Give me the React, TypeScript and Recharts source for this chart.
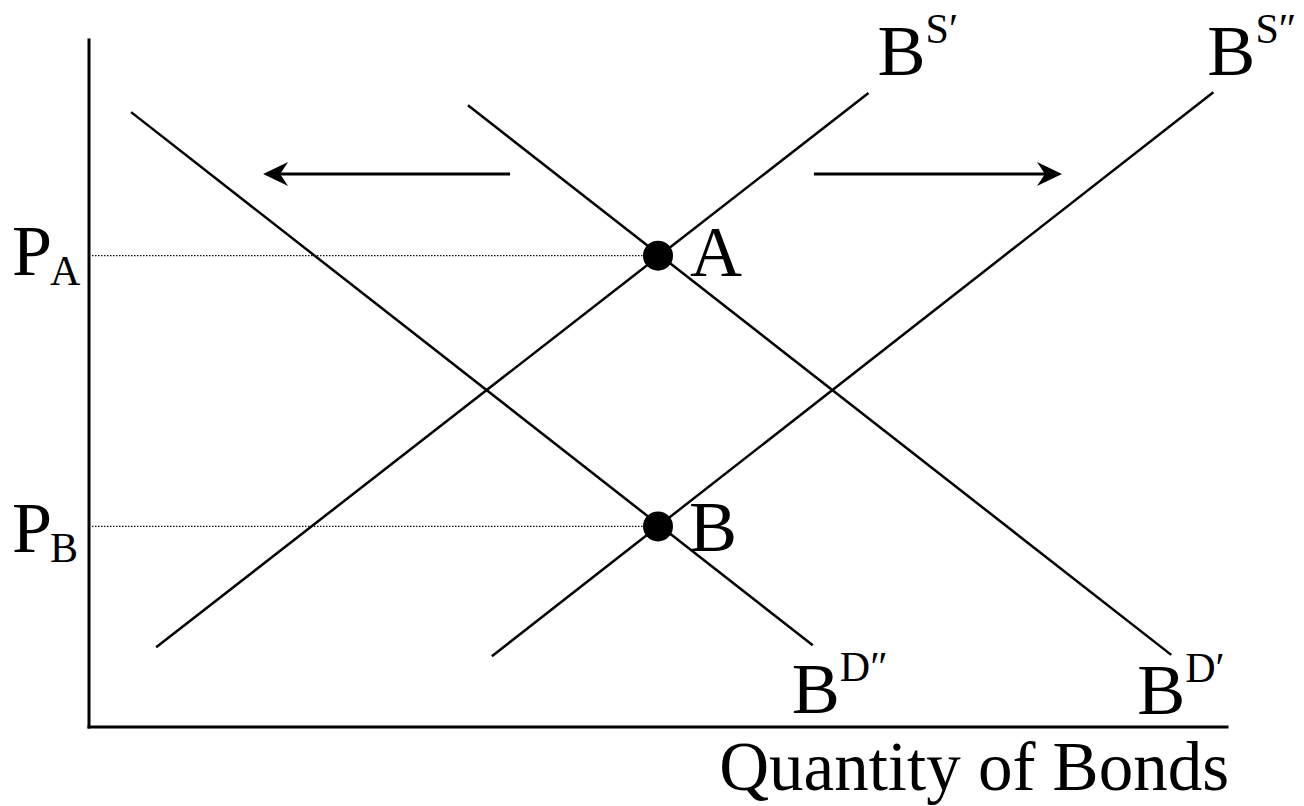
import React from "react";
import {
  ComposedChart,
  XAxis,
  YAxis,
  Line,
  ReferenceLine,
  ReferenceDot,
} from "recharts";

// quantity (q) and price (p), both axes run 0..100
const supplyOne = [
  { q: 5.9, p: 11.6 },
  { q: 68.5, p: 92.3 },
];
const supplyTwo = [
  { q: 35.4, p: 10.3 },
  { q: 98.8, p: 92.4 },
];
const demandOne = [
  { q: 33.3, p: 90.5 },
  { q: 95.1, p: 10.5 },
];
const demandTwo = [
  { q: 3.7, p: 89.5 },
  { q: 63.6, p: 11.9 },
];

const pointA = { q: 50, p: 68.6 };
const pointB = { q: 50, p: 29.2 };

const shiftLeft = [
  { q: 37.0, p: 80.5 },
  { q: 15.3, p: 80.5 },
];
const shiftRight = [
  { q: 63.7, p: 80.5 },
  { q: 85.5, p: 80.5 },
];

const qDomain = [0, 100];
const pDomain = [0, 100];

const FONT = "'Liberation Serif', 'Times New Roman', Times, serif";
const BIG = 72;
const SMALL = 42;

const SupText = ({ x, y, base, sup }: any) => (
  <text x={x} y={y} fontFamily={FONT} fontSize={BIG} fill="#000">
    {base}
    <tspan dy={-32} fontSize={SMALL}>
      {sup}
    </tspan>
  </text>
);

const SubText = ({ x, y, base, sub }: any) => (
  <text x={x} y={y} fontFamily={FONT} fontSize={BIG} fill="#000">
    {base}
    <tspan dx={-2} dy={10} fontSize={SMALL}>
      {sub}
    </tspan>
  </text>
);

// end label for a curve, placed relative to the curve's end point
const curveLabel = (sup: string, dx: number, dy: number) => (props: any) =>
  <SupText x={props.cx + dx} y={props.cy + dy} base="B" sup={sup} />;

const equilibriumDot = (name: string, dx: number, dy: number) => (props: any) =>
  (
    <g>
      <circle cx={props.cx} cy={props.cy} r={15} fill="#000" />
      <text
        x={props.cx + dx}
        y={props.cy + dy}
        fontFamily={FONT}
        fontSize={BIG}
        fill="#000"
      >
        {name}
      </text>
    </g>
  );

const priceGuide = (sub: string, dy: number) => (props: any) =>
  (
    <g>
      <line
        x1={props.x1 + 3}
        y1={props.y1}
        x2={props.x2}
        y2={props.y2}
        stroke="#111"
        strokeWidth={1.3}
        strokeDasharray="1.5 1.5"
      />
      <SubText x={props.x1 - 77} y={props.y1 + dy} base="P" sub={sub} />
    </g>
  );

const Arrow = (props: any) => {
  const { x1, y1, x2, y2 } = props;
  const dir = Math.sign(x2 - x1);
  const back = x2 - dir * 25;
  const notch = x2 - dir * 17;
  return (
    <g>
      <line x1={x1} y1={y1} x2={notch} y2={y2} stroke="#000" strokeWidth={3} />
      <path
        d={`M${x2},${y2} L${back},${y2 - 12} L${notch},${y2} L${back},${y2 + 12} Z`}
        fill="#000"
      />
    </g>
  );
};

const AxisStroke = (props: any) => (
  <line
    x1={props.x1}
    y1={props.y1}
    x2={props.x2}
    y2={props.y2}
    stroke="#000"
    strokeWidth={3}
    strokeLinecap="square"
  />
);

const AxisTitle = (props: any) => (
  <text
    x={props.cx + 2}
    y={props.cy + 63}
    textAnchor="end"
    fontFamily={FONT}
    fontSize={69}
    fill="#000"
  >
    Quantity of Bonds
  </text>
);

const curves = [supplyOne, supplyTwo, demandOne, demandTwo];

export default function App() {
  return (
    <div style={{ position: "absolute", left: 0, top: 0 }}>
      <ComposedChart
        width={1304}
        height={806}
        margin={{ top: 40, left: 89, right: 77, bottom: 79 }}
      >
        <XAxis dataKey="q" type="number" domain={qDomain} hide />
        <YAxis dataKey="p" type="number" domain={pDomain} hide />
        {curves.map((d, i) => (
          <Line
            key={i}
            data={d}
            dataKey="p"
            type="linear"
            stroke="#000"
            strokeWidth={2.5}
            dot={false}
            activeDot={false}
            isAnimationActive={false}
          />
        ))}
        <ReferenceLine
          segment={[{ x: qDomain[0], y: pDomain[0] }, { x: qDomain[1], y: pDomain[0] }]}
          shape={AxisStroke}
        />
        <ReferenceLine
          segment={[{ x: qDomain[0], y: pDomain[0] }, { x: qDomain[0], y: pDomain[1] }]}
          shape={AxisStroke}
        />
        <ReferenceLine
          segment={[{ x: 0, y: pointA.p }, { x: pointA.q, y: pointA.p }]}
          shape={priceGuide("A", 19)}
        />
        <ReferenceLine
          segment={[{ x: 0, y: pointB.p }, { x: pointB.q, y: pointB.p }]}
          shape={priceGuide("B", 26)}
        />
        <ReferenceLine
          segment={[
            { x: shiftLeft[0].q, y: shiftLeft[0].p },
            { x: shiftLeft[1].q, y: shiftLeft[1].p },
          ]}
          shape={Arrow}
        />
        <ReferenceLine
          segment={[
            { x: shiftRight[0].q, y: shiftRight[0].p },
            { x: shiftRight[1].q, y: shiftRight[1].p },
          ]}
          shape={Arrow}
        />
        <ReferenceDot x={pointA.q} y={pointA.p} r={15} shape={equilibriumDot("A", 32, 20)} />
        <ReferenceDot x={pointB.q} y={pointB.p} r={15} shape={equilibriumDot("B", 31, 25)} />
        <ReferenceDot x={supplyOne[1].q} y={supplyOne[1].p} r={1} shape={curveLabel("S\u2032", 9, -18)} />
        <ReferenceDot x={supplyTwo[1].q} y={supplyTwo[1].p} r={1} shape={curveLabel("S\u2033", -6, -17)} />
        <ReferenceDot x={demandTwo[1].q} y={demandTwo[1].p} r={1} shape={curveLabel("D\u2033", -21, 68)} />
        <ReferenceDot x={demandOne[1].q} y={demandOne[1].p} r={1} shape={curveLabel("D\u2032", -34, 59)} />
        <ReferenceDot x={qDomain[1]} y={pDomain[0]} r={1} shape={AxisTitle} />
      </ComposedChart>
    </div>
  );
}
